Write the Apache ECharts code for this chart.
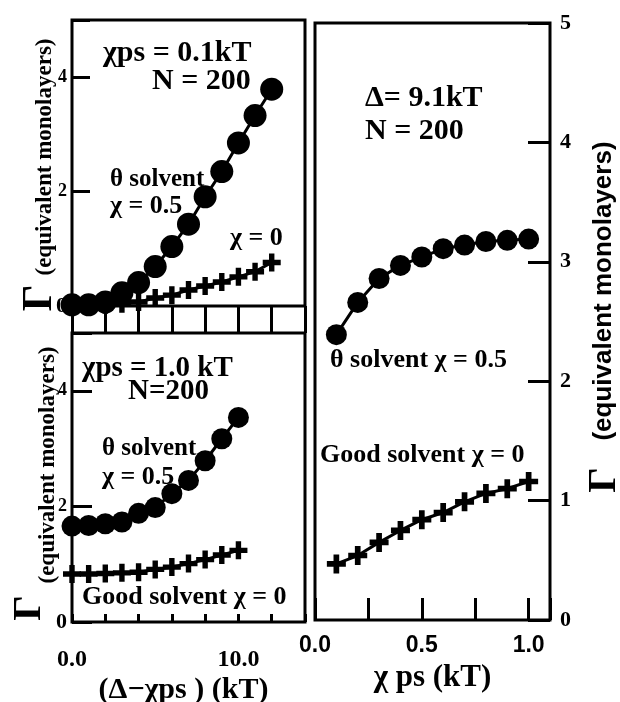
<!DOCTYPE html>
<html>
<head>
<meta charset="utf-8">
<script src="https://cdn.jsdelivr.net/npm/echarts@6/dist/echarts.min.js"></script>
<style>
html, body { margin: 0; padding: 0; background: #fff; }
#chart { width: 620px; height: 702px; }
</style>
</head>
<body>
<div id="chart"></div>
<script>
// top left panel: chi_ps = 0.1 kT
var topX = [0, 1, 2, 3, 4, 5, 6, 7, 8, 9, 10, 11, 12];
var topTheta = [0.02, 0.02, 0.07, 0.23, 0.41, 0.69, 1.04, 1.43, 1.91, 2.35, 2.85, 3.33, 3.79];
var topGood = [0.0, 0.01, 0.02, 0.04, 0.07, 0.14, 0.19, 0.28, 0.35, 0.42, 0.51, 0.60, 0.76];

// bottom left panel: chi_ps = 1.0 kT
var botX = [0, 1, 2, 3, 4, 5, 6, 7, 8, 9, 10];
var botTheta = [1.66, 1.67, 1.70, 1.73, 1.88, 1.98, 2.22, 2.45, 2.79, 3.17, 3.54];
var botGood = [0.83, 0.83, 0.84, 0.85, 0.86, 0.91, 0.95, 1.01, 1.08, 1.16, 1.24];

// right panel: delta = 9.1 kT
var rightX = [0.1, 0.2, 0.3, 0.4, 0.5, 0.6, 0.7, 0.8, 0.9, 1.0];
var rightTheta = [2.39, 2.66, 2.86, 2.97, 3.04, 3.11, 3.14, 3.17, 3.18, 3.19];
var rightGood = [0.47, 0.54, 0.65, 0.75, 0.84, 0.90, 0.99, 1.06, 1.10, 1.16];

var leftXLabels = {0: '0.0', 10: '10.0'};
var rightXLabels = ['0.0', '0.5', '1.0'];

var serif = 'Liberation Serif';
var sans = 'Liberation Sans';
var plus = 'path://M0,3.5H3.5V0H6.5V3.5H10V6.5H6.5V10H3.5V6.5H0Z';

function pairs(xs, ys) {
	var out = [];
	for (var i = 0; i < xs.length; i++) out.push([xs[i], ys[i]]);
	return out;
}

function line(idx, xs, ys, symbol, size) {
	return {
		type: 'line',
		xAxisIndex: idx,
		yAxisIndex: idx,
		data: pairs(xs, ys),
		symbol: symbol,
		symbolSize: size,
		showAllSymbol: true,
		clip: false,
		lineStyle: { color: '#000', width: 3 },
		itemStyle: { color: '#000', borderWidth: 0 },
		emphasis: { disabled: true },
		z: symbol == 'circle' ? 3 : 2
	};
}

function txt(x, y, s, size, font, rot) {
	return {
		type: 'text',
		x: x,
		y: y,
		rotation: rot || 0,
		style: {
			text: s,
			fill: '#000',
			font: 'bold ' + size + 'px "' + (font || serif) + '"',
			textVerticalAlign: 'middle',
			verticalAlign: 'middle',
			align: rot ? 'center' : 'left'
		}
	};
}

var gridBase = { show: true, borderColor: '#000', borderWidth: 3, backgroundColor: 'transparent', containLabel: false, outerBoundsMode: 'none' };

var leftYLabel = {
	fontFamily: serif, fontWeight: 'bold', fontSize: 18, color: '#000', margin: 5,
	formatter: function(v) { return v == 5 ? '' : v == 0 ? '{z|0}' : String(v); },
	rich: { z: { fontFamily: serif, fontWeight: 'bold', fontSize: 22, color: '#000' } }
};

var option = {
	animation: false,
	backgroundColor: '#fff',
	grid: [
		Object.assign({ left: 72, top: 20, width: 233, height: 286 }, gridBase),
		Object.assign({ left: 72, top: 333, width: 233, height: 289 }, gridBase),
		Object.assign({ left: 315, top: 23, width: 235, height: 597 }, gridBase),
		// strip between the two left panels, holds the long ticks
		{ left: 72, top: 306, width: 233, height: 27, show: false, containLabel: false, outerBoundsMode: 'none' }
	],
	xAxis: [
		{
			gridIndex: 0, type: 'value', min: 0, max: 14, interval: 2,
			splitLine: { show: false },
			axisLine: { show: false, onZero: false },
			axisTick: { show: false },
			axisLabel: { show: false }
		},
		{
			gridIndex: 1, type: 'value', min: 0, max: 14, interval: 2,
			splitLine: { show: false },
			axisLine: { show: false, onZero: false },
			axisTick: { show: true, inside: true, length: 8, lineStyle: { color: '#000', width: 3 } },
			axisLabel: {
				fontFamily: serif, fontWeight: 'bold', fontSize: 24, color: '#000', margin: 26,
				formatter: function(v) { return leftXLabels[v] || ''; }
			},
			name: '(\u0394\u2212\u03c7ps ) (kT)',
			nameLocation: 'middle',
			nameGap: 53,
			nameTextStyle: { fontFamily: serif, fontWeight: 'bold', fontSize: 30, color: '#000', padding: [0, 10, 0, 0] }
		},
		{
			gridIndex: 2, type: 'value', min: 0, max: 1.1, interval: 0.25,
			splitLine: { show: false },
			axisLine: { show: false, onZero: false },
			axisTick: { show: true, inside: true, length: 22, lineStyle: { color: '#000', width: 3 } },
			axisLabel: {
				fontFamily: sans, fontWeight: 'bold', fontSize: 23, color: '#000', margin: 14,
				formatter: function(v) {
					var k = Math.round(v * 2);
					return Math.abs(v * 2 - k) < 1e-6 && k <= 2 ? rightXLabels[k] : '';
				}
			},
			name: '\u03c7 ps (kT)',
			nameLocation: 'middle',
			nameGap: 42,
			nameTextStyle: { fontFamily: serif, fontWeight: 'bold', fontSize: 31, color: '#000' }
		},
		{
			gridIndex: 3, type: 'value', min: 0, max: 14, interval: 2,
			splitLine: { show: true, lineStyle: { color: '#000', width: 3 } },
			axisLine: { show: false },
			axisTick: { show: false },
			axisLabel: { show: false }
		}
	],
	yAxis: [
		{
			gridIndex: 0, type: 'value', min: 0, max: 5, interval: 2,
			splitLine: { show: false },
			axisLine: { show: false, onZero: false },
			axisTick: { show: true, inside: true, length: 18, lineStyle: { color: '#000', width: 3 } },
			axisLabel: leftYLabel
		},
		{
			gridIndex: 1, type: 'value', min: 0, max: 5, interval: 2,
			splitLine: { show: false },
			axisLine: { show: false, onZero: false },
			axisTick: { show: true, inside: true, length: 20, lineStyle: { color: '#000', width: 3 } },
			axisLabel: leftYLabel
		},
		{
			gridIndex: 2, type: 'value', position: 'right', min: 0, max: 5, interval: 1,
			splitLine: { show: false },
			axisLine: { show: false, onZero: false },
			axisTick: { show: true, inside: true, length: 22, lineStyle: { color: '#000', width: 3 } },
			axisLabel: { fontFamily: serif, fontWeight: 'bold', fontSize: 22, color: '#000', margin: 10 }
		},
		{
			gridIndex: 3, type: 'value', min: 0, max: 1,
			show: false
		}
	],
	series: [
		line(0, topX, topGood, plus, 18),
		line(0, topX, topTheta, 'circle', 23),
		line(1, botX, botGood, plus, 18),
		line(1, botX, botTheta, 'circle', 21),
		line(2, rightX, rightGood, plus, 19),
		line(2, rightX, rightTheta, 'circle', 21)
	],
	graphic: [
		// top left notes
		txt(103, 53, '\u03c7ps = 0.1kT', 30),
		txt(152, 81, 'N = 200', 30),
		txt(110, 180, '\u03b8 solvent', 25),
		txt(110, 206, '\u03c7 = 0.5', 26),
		txt(230, 238, '\u03c7 = 0', 26),
		// bottom left notes
		txt(82, 369, '\u03c7ps = 1.0 kT', 29),
		txt(128, 392, 'N=200', 29),
		txt(102, 449, '\u03b8 solvent', 25),
		txt(102, 477, '\u03c7 = 0.5', 26),
		txt(82, 597, 'Good solvent \u03c7 = 0', 26),
		// right notes
		txt(365, 98, '\u0394= 9.1kT', 30),
		txt(365, 131, 'N = 200', 30),
		txt(330, 360, '\u03b8 solvent \u03c7 = 0.5', 26),
		txt(320, 455, 'Good solvent \u03c7 = 0', 26),
		// y axis titles
		txt(45, 157, '(equivalent monolayers)', 23, serif, Math.PI / 2),
		txt(40, 298, '\u0393', 42, serif, Math.PI / 2),
		txt(48, 465, '(equivalent monolayers)', 23, serif, Math.PI / 2),
		txt(30, 608, '\u0393', 40, serif, Math.PI / 2),
		txt(604, 291, '(equivalent monolayers)', 26, sans, Math.PI / 2),
		txt(605, 480, '\u0393', 40, serif, Math.PI / 2)
	]
};

var myChart = echarts.init(document.getElementById('chart'));
myChart.setOption(option);
</script>
</body>
</html>
